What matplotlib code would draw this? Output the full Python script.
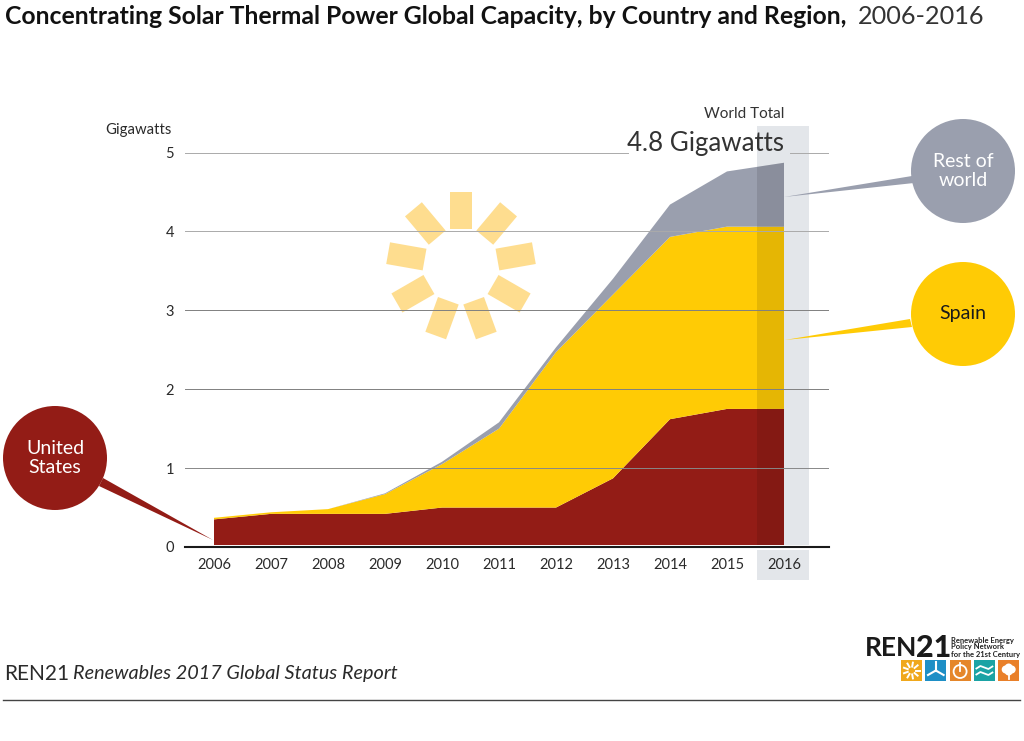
import numpy as np
import matplotlib.pyplot as plt
from matplotlib.patches import Circle, Polygon, Rectangle
from matplotlib.transforms import Affine2D

# Datos (GW)
years = [2006, 2007, 2008, 2009, 2010, 2011, 2012, 2013, 2014, 2015, 2016]
us = [0.35, 0.42, 0.42, 0.42, 0.50, 0.50, 0.50, 0.87, 1.62, 1.75, 1.75]
spain = [0.02, 0.02, 0.06, 0.25, 0.55, 1.00, 1.97, 2.33, 2.31, 2.31, 2.31]
rest = [0.00, 0.00, 0.00, 0.01, 0.03, 0.08, 0.06, 0.20, 0.41, 0.70, 0.81]
y_ticks = [0, 1, 2, 3, 4, 5]

RED = '#931c16'
YELLOW = '#ffcb05'
GREY = '#9a9fae'
TEXT = '#2a2a2a'
FONT = ['Lato', 'DejaVu Sans']

W, H = 1024, 741
fig = plt.figure(figsize=(W / 100, H / 100), dpi=100, facecolor='white')


def pixel_layer(z):
    a = fig.add_axes([0, 0, 1, 1], zorder=z)
    a.set_xlim(0, W)
    a.set_ylim(H, 0)
    a.axis('off')
    return a


bg = pixel_layer(0)
top = pixel_layer(3)

# Banda de 2016 y sol detrás del gráfico
bg.add_patch(Rectangle((757, 126), 52, 454, color='#e3e6ea', lw=0))
for ang in np.arange(90, 450, 40):
    t = Affine2D().rotate_deg(-ang).translate(461, 266) + bg.transData
    bg.add_patch(Rectangle((37, -11), 37, 22, color='#fedd8f', lw=0, transform=t))

# Gráfico principal
x0, x1, y0, y1 = 185, 829, 547, 152.5
ax = fig.add_axes([x0 / W, 1 - y0 / H, (x1 - x0) / W, (y0 - y1) / H], zorder=1)
ax.patch.set_alpha(0)
ax.set_xlim(2006 - 29 / 57, 2016 + 45 / 57)
ax.set_ylim(0, 5)

ax.stackplot(years, us, spain, rest, colors=[RED, YELLOW, GREY], lw=0, zorder=2)

# Oscurecer la parte de 2016, recortado a la silueta del área
total = np.array(us) + np.array(spain) + np.array(rest)
sil = ax.fill_between(years, 0, total, color='none', lw=0)
shade = Rectangle((2016 - 27 / 57, 0), 27 / 57, 5, color='black', alpha=0.1, lw=0, zorder=3)
ax.add_patch(shade)
shade.set_clip_path(sil.get_paths()[0], ax.transData)

# Rejilla
trans = ax.get_yaxis_transform()
for v, col in [(1, '#888888'), (2, '#808080'), (3, '#808080'), (4, '#aaaaaa')]:
    ax.plot([0, 1], [v, v], color=col, lw=0.7, transform=trans, zorder=4)
ax.plot([0, 0.688], [5, 5], color='#aaaaaa', lw=0.7, transform=trans, zorder=4)
ax.plot([0.939, 1], [5, 5], color='#aaaaaa', lw=0.7, transform=trans, zorder=4)
ax.plot([0, 1], [0, 0], color='white', lw=3.6, transform=trans, zorder=5, clip_on=False)
ax.plot([0, 1], [0, 0], color='#1a1a1a', lw=1.5, transform=trans, zorder=6, clip_on=False)

for s in ax.spines.values():
    s.set_visible(False)
ax.set_xticks(years)
ax.set_yticks(y_ticks)
ax.tick_params(length=0, labelsize=10.5, labelcolor=TEXT)
ax.tick_params(axis='x', pad=8)
ax.tick_params(axis='y', pad=8)
for lab in ax.get_xticklabels() + ax.get_yticklabels():
    lab.set_family(FONT)

# Burbujas con su cola
bubbles = [
    (963, 171, GREY, 'Rest of\nworld', 'white', [(784, 197), (912, 176), (914, 183)]),
    (963, 314, YELLOW, 'Spain', '#1a1a1a', [(785, 340), (910, 319), (912, 327)]),
    (55, 458, RED, 'United\nStates', 'white', [(213, 540), (103, 478), (99, 486)]),
]
for cx, cy, col, txt, tcol, tail in bubbles:
    top.add_patch(Polygon(tail, closed=True, color=col, lw=0))
    top.add_patch(Circle((cx, cy), 52, color=col, lw=0))
    top.text(cx, cy, txt, color=tcol, ha='center', va='center', fontsize=14,
             family=FONT, linespacing=1.2)

# Textos
top.text(5, 17, 'Concentrating Solar Thermal Power Global Capacity, by Country and Region,',
         family=FONT, weight='bold', fontsize=17.8, color='#111111', va='center')
top.text(858, 17, '2006-2016', family=FONT, fontsize=18.2, color='#333333', va='center')
top.text(172, 130, 'Gigawatts', family=FONT, fontsize=10.7, color=TEXT, ha='right', va='center')
top.text(784, 114, 'World Total', family=FONT, fontsize=11, color='#333333', ha='right', va='center')
top.text(784, 144, '4.8 Gigawatts', family=FONT, fontsize=18.6, color='#333333', ha='right', va='center')
top.text(4, 674, 'REN21', family=FONT, fontsize=15, color=TEXT, va='center')
top.text(73, 674, 'Renewables 2017 Global Status Report', family=FONT, style='italic',
         fontsize=14.3, color=TEXT, va='center')
top.plot([3, 1020], [700, 700], color='#444444', lw=1)

# Logo REN21
top.text(865, 648, 'REN', family=FONT, weight='bold', fontsize=19, color='#1a1a1a', va='center')
top.text(916, 648, '21', family=FONT, weight='black', fontsize=22, color='#1a1a1a', va='center')
for i, line in enumerate(['Renewable Energy', 'Policy Network', 'for the 21st Century']):
    top.text(951, 640 + 7 * i, line, family=FONT, weight='bold', fontsize=5.5,
             color='#222222', va='center')

logo_cols = ['#f0a81c', '#1e8fc6', '#e5862a', '#1ba3a5', '#e9802a']
for i, col in enumerate(logo_cols):
    lx = 901 + 24.3 * i
    top.add_patch(Rectangle((lx, 660), 21, 21, color=col, lw=0))
    cx, cy = lx + 10.5, 670.5
    if i == 0:
        for a in np.arange(0, 2 * np.pi, 2 * np.pi / 9):
            top.plot([cx + 4 * np.cos(a), cx + 8 * np.cos(a)],
                     [cy + 4 * np.sin(a), cy + 8 * np.sin(a)], color='white', lw=1.4)
    elif i == 1:
        for a in [-np.pi / 2, np.pi / 6, 5 * np.pi / 6]:
            top.plot([cx, cx + 9 * np.cos(a)], [cy, cy + 9 * np.sin(a)], color='white', lw=1.5)
    elif i == 2:
        top.add_patch(Circle((cx, cy + 1), 6.5, fill=False, ec='white', lw=1.3))
        top.plot([cx, cx], [cy - 8, cy], color='white', lw=1.3)
    elif i == 3:
        for dy in [-3, 3]:
            top.plot(cx + np.array([-8, -4, 0, 4, 8]), cy + dy + np.array([1, -1.5, 0, 1.5, -1]),
                     color='white', lw=1.3)
    else:
        for ox, oy, r in [(-3, -1, 4), (3, -1, 4), (0, -3, 4), (0, 1, 4)]:
            top.add_patch(Circle((cx + ox, cy + oy), r, color='white', lw=0))
        top.plot([cx, cx], [cy, cy + 8], color='white', lw=1.3)

plt.savefig('out.png', dpi=100, facecolor='white')
